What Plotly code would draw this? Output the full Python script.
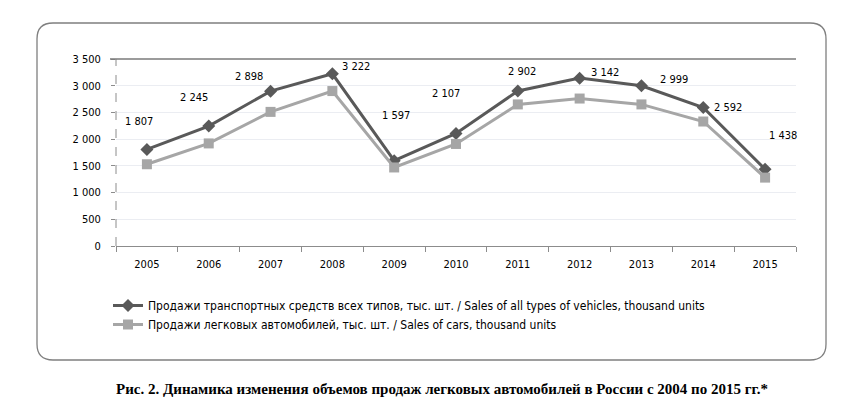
"""
Sales of vehicles in Russia, 2005-2015 (line chart with data labels).
"""

import plotly.graph_objects as go

# chart data
years = ['2005', '2006', '2007', '2008', '2009', '2010', '2011', '2012', '2013', '2014', '2015']
all_vehicles = [1807, 2245, 2898, 3222, 1597, 2107, 2902, 3142, 2999, 2592, 1438]
cars = [1530, 1920, 2510, 2900, 1470, 1910, 2650, 2760, 2650, 2330, 1280]
y_ticks = [0, 500, 1000, 1500, 2000, 2500, 3000, 3500]

name_all = 'Продажи транспортных средств всех типов, тыс. шт. / Sales of all types of vehicles, thousand units'
name_cars = 'Продажи легковых автомобилей, тыс. шт. / Sales of cars, thousand units'
caption = 'Рис. 2. Динамика изменения объемов продаж легковых автомобилей в России с 2004 по 2015 гг.*'

# label offsets (pixels) as placed by hand in the original
label_dx = [-8, -15, -22, 24, 2, -10, 4, 25, 33, 25, 18]
label_dy = [28, 29, 15, 7, 45, 40, 19, 6, 6, 0, 34]

# page has an 8px body margin, so the figure starts at (8, 8) on screen
OFF = 8
W, H = 864 - OFF, 411 - OFF
L, R, T, B = 116, 796, 59, 246   # plot area in screen pixels
FONT = "'DejaVu Sans Condensed', 'Liberation Sans Narrow', Calibri, sans-serif"


def px(x):
    return (x - L) / (R - L)


def py(y):
    return (B - y) / (B - T)


fig = go.Figure()

fig.add_trace(go.Scatter(x=years, y=all_vehicles, mode='lines+markers', name=name_all,
                         line=dict(color='#595959', width=3),
                         marker=dict(symbol='diamond', size=10, color='#595959')))
fig.add_trace(go.Scatter(x=years, y=cars, mode='lines+markers', name=name_cars,
                         line=dict(color='#a6a6a6', width=3),
                         marker=dict(symbol='square', size=10, color='#a6a6a6')))

# data labels of the upper series
for i, (v, dx, dy) in enumerate(zip(all_vehicles, label_dx, label_dy)):
    fig.add_annotation(x=i, y=v, text=f'{v:,}'.replace(',', ' '), showarrow=False,
                       xshift=dx, yshift=dy, font=dict(size=11, color='#000000', family=FONT))

# caption under the frame
fig.add_annotation(x=px(442), y=py(389), xref='paper', yref='paper', text='<b>' + caption + '</b>',
                   showarrow=False, xanchor='center', yanchor='middle',
                   font=dict(size=15, color='#000000', family='Liberation Serif'))

# rounded frame around the chart
x0, y0, x1, y1, r = 37, 23, 826, 360, 16
path = (f'M {px(x0 + r)},{py(y0)} L {px(x1 - r)},{py(y0)} Q {px(x1)},{py(y0)} {px(x1)},{py(y0 + r)} '
        f'L {px(x1)},{py(y1 - r)} Q {px(x1)},{py(y1)} {px(x1 - r)},{py(y1)} '
        f'L {px(x0 + r)},{py(y1)} Q {px(x0)},{py(y1)} {px(x0)},{py(y1 - r)} '
        f'L {px(x0)},{py(y0 + r)} Q {px(x0)},{py(y0)} {px(x0 + r)},{py(y0)} Z')
fig.add_shape(type='path', path=path, xref='paper', yref='paper',
              line=dict(color='#7f7f7f', width=1.3), layer='below')

# dashed vertical axis
fig.add_shape(type='line', x0=0, x1=0, y0=0, y1=1, xref='paper', yref='paper',
              line=dict(color='#8c8c8c', width=1, dash='dash'))
# darker line along the top of the plot area
fig.add_shape(type='line', x0=px(110), x1=1, y0=1, y1=1, xref='paper', yref='paper',
              line=dict(color='#7a7a7a', width=1.5))

fig.update_layout(
    width=W, height=H,
    margin=dict(l=L - OFF, r=864 - R, t=T - OFF, b=411 - B),
    paper_bgcolor='white', plot_bgcolor='white',
    separators=', ',
    font=dict(family=FONT, size=11, color='#000000'),
    legend=dict(x=px(108), y=py(291), xanchor='left', yanchor='top',
                font=dict(size=12, family=FONT), tracegroupgap=0, itemwidth=30),
    showlegend=True,
)

fig.update_xaxes(type='category', range=[-0.5, 10.5], showgrid=False,
                 showline=True, linecolor='#8c8c8c', linewidth=1,
                 ticks='outside', tickson='boundaries', ticklen=5, tickcolor='#8c8c8c',
                 ticklabelstandoff=8, tickfont=dict(size=11))
fig.update_yaxes(range=[0, 3500], tickvals=y_ticks, tickformat=',d',
                 showgrid=True, gridcolor='#ebedf2', gridwidth=1,
                 showline=False, zeroline=False, ticks='outside', ticklen=4,
                 tickcolor='#8c8c8c', ticklabelstandoff=8,
                 tickfont=dict(size=11))

fig.write_html('out.html')
